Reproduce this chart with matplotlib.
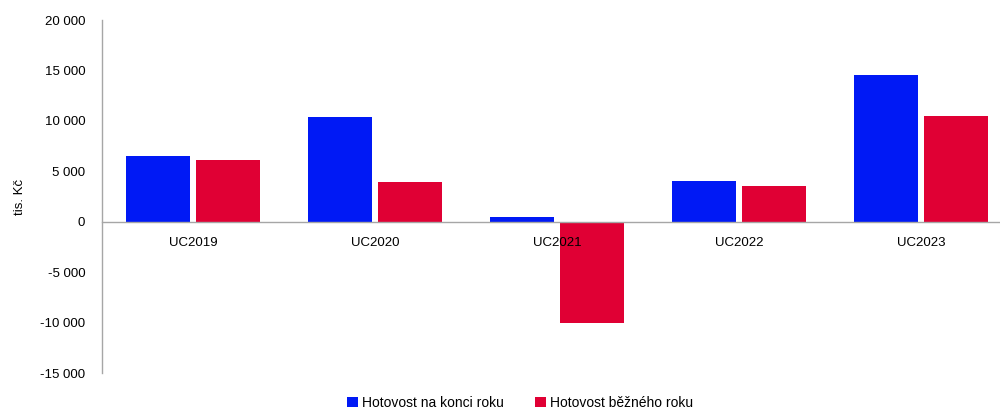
import matplotlib
matplotlib.use("Agg")
import matplotlib.pyplot as plt
import numpy as np
from matplotlib.ticker import FuncFormatter, MultipleLocator

plt.rcParams["font.family"] = ["Liberation Sans", "DejaVu Sans"]

CATEGORIES = ["UC2019", "UC2020", "UC2021", "UC2022", "UC2023"]
END_OF_YEAR = [6500, 10400, 450, 4050, 14550]
CURRENT_YEAR = [6100, 3950, -10000, 3550, 10450]
LABELS = ["Hotovost na konci roku", "Hotovost běžného roku"]

BLUE = "#0019F5"
RED = "#E00034"

fig = plt.figure(figsize=(10, 4.09), dpi=100)
# axes runs a bit past the right edge, as in the original
ax = fig.add_axes([0.102, 0.088, 0.91, 0.863])

x = np.arange(len(CATEGORIES))
w = 0.352
gap = 0.033
ax.bar(x - (w + gap) / 2, END_OF_YEAR, w, color=BLUE, label=LABELS[0])
ax.bar(x + (w + gap) / 2, CURRENT_YEAR, w, color=RED, label=LABELS[1])

ax.set_xlim(-0.5, len(CATEGORIES) - 0.5)
ax.set_ylim(-15000, 20000)
ax.yaxis.set_major_locator(MultipleLocator(5000))
ax.yaxis.set_major_formatter(FuncFormatter(lambda v, p: f"{v:,.0f}".replace(",", " ")))

ax.spines["top"].set_visible(False)
ax.spines["right"].set_visible(False)
ax.spines["bottom"].set_position(("data", 0))
for s in ("left", "bottom"):
    ax.spines[s].set_color("#A6A6A6")
    ax.spines[s].set_linewidth(1)

ax.set_xticks(x)
ax.set_xticklabels(CATEGORIES, fontsize=9.5)
ax.tick_params(axis="x", length=0, pad=11)
ax.tick_params(axis="y", length=0, labelsize=9.5, pad=12)
ax.set_ylabel("tis. Kč", fontsize=9.5, labelpad=10)

fig.legend(*ax.get_legend_handles_labels(), loc="center", bbox_to_anchor=(0.52, 0.015),
           ncol=2, frameon=False, fontsize=10, handlelength=0.8, handleheight=0.8,
           handletextpad=0.3, columnspacing=2.2)

fig.savefig("out.png", dpi=100)
